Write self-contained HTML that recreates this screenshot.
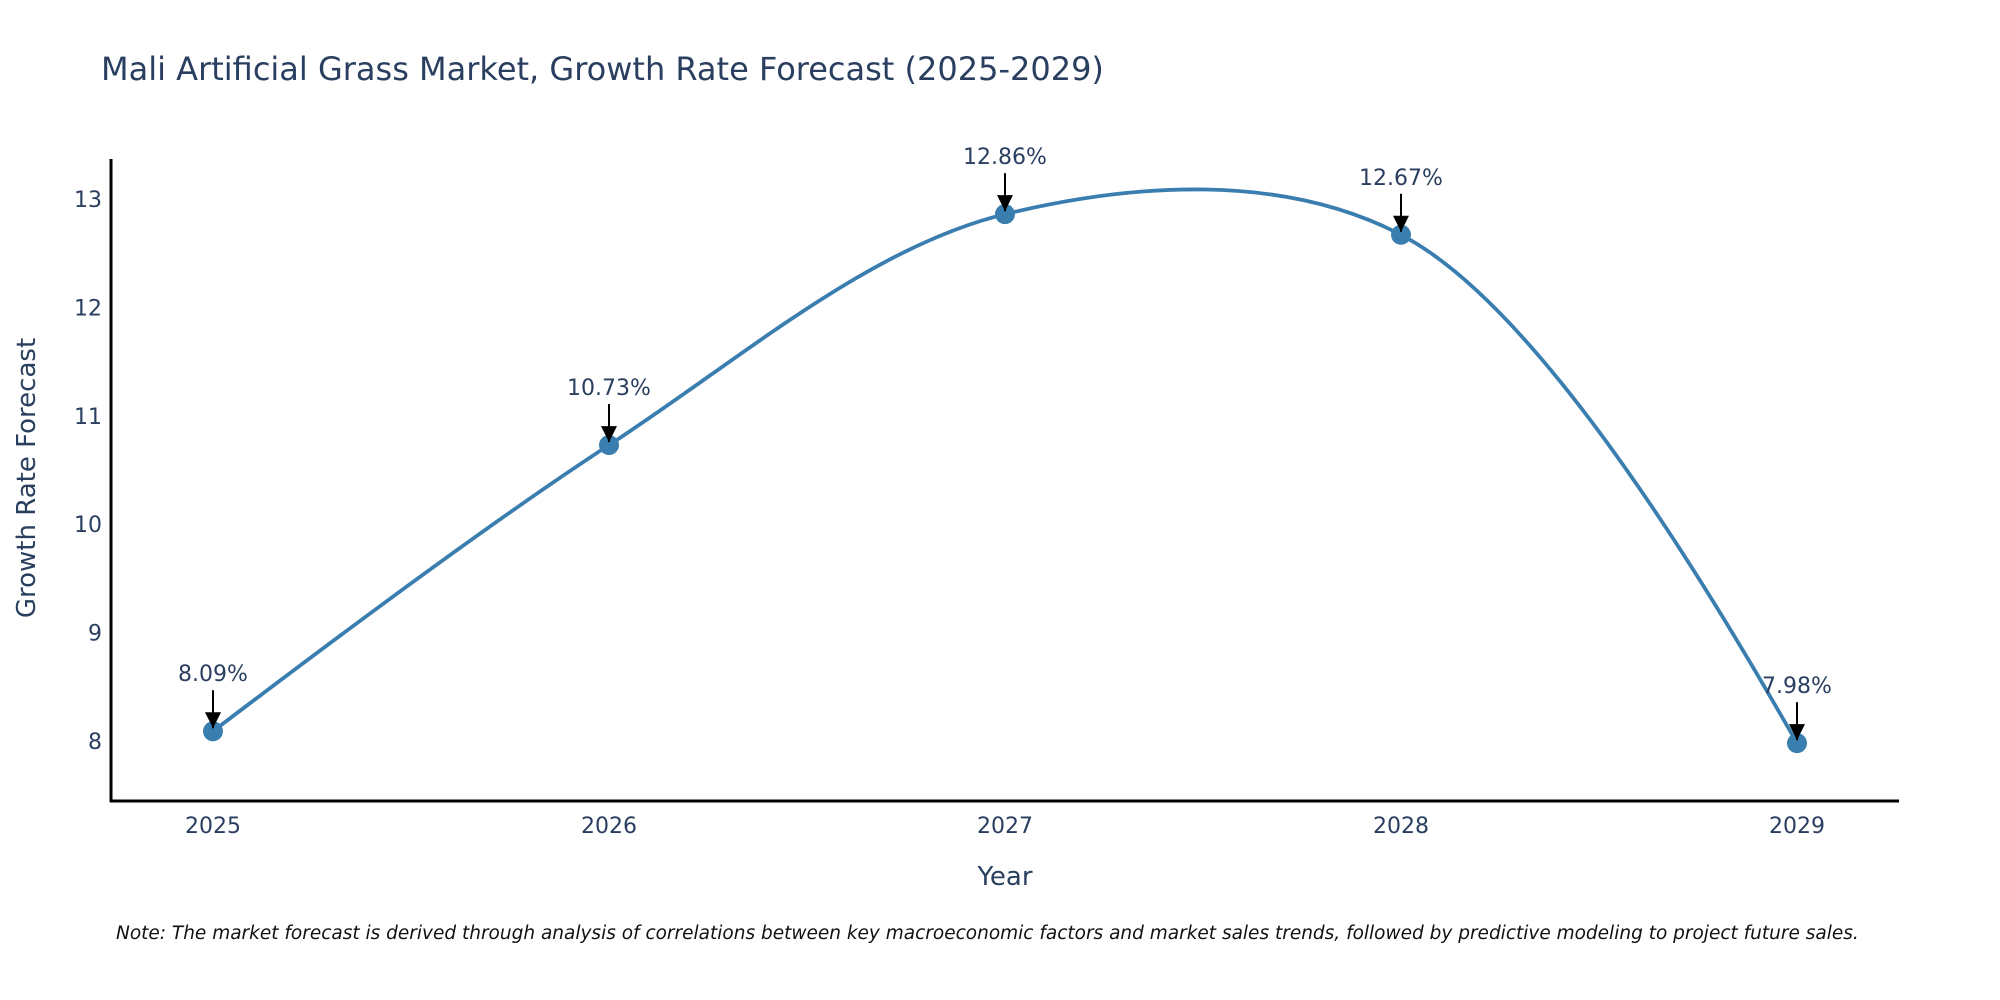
<!DOCTYPE html>
<html><head><meta charset="utf-8">
<style>
html,body{margin:0;padding:0;background:#fff;}
svg{display:block;font-family:"DejaVu Sans","Liberation Sans",sans-serif;}
</style></head>
<body>
<svg id="chart" width="2000" height="1000" viewBox="0 0 2000 1000">
  <rect width="2000" height="1000" fill="#fff"/>
  <text x="101" y="80" font-size="32" fill="#2a3f5f">Mali Artificial Grass Market, Growth Rate Forecast (2025-2029)</text>
  <g id="yticks"></g>
  <g id="xticks"></g>
  <line x1="111" y1="159" x2="111" y2="802" stroke="#000" stroke-width="3"/>
  <line x1="110" y1="801" x2="1899" y2="801" stroke="#000" stroke-width="3"/>
  <path id="series-line" fill="none" stroke="#3a7eb0" stroke-width="3.8"/>
  <g id="markers"></g>
  <g id="annotations"></g>
  <text x="1005" y="885" font-size="26" fill="#2a3f5f" text-anchor="middle">Year</text>
  <text transform="translate(35,478) rotate(-90)" font-size="26" fill="#2a3f5f" text-anchor="middle">Growth Rate Forecast</text>
  <text x="116" y="939" font-size="18.5" font-style="italic" fill="#111">Note: The market forecast is derived through analysis of correlations between key macroeconomic factors and market sales trends, followed by predictive modeling to project future sales.</text>
  <defs>
    <marker id="arrow" viewBox="0 0 10 10" refX="10" refY="5" markerWidth="7" markerHeight="7" markerUnits="userSpaceOnUse" orient="auto">
      <path d="M0,0 L10,5 L0,10 z" fill="#000"/>
    </marker>
  </defs>
</svg>
<script>
const years = [2025, 2026, 2027, 2028, 2029];
const growthValues = [8.09, 10.73, 12.86, 12.67, 7.98];
const valueLabels = ["8.09%", "10.73%", "12.86%", "12.67%", "7.98%"];
const yTickValues = [8, 9, 10, 11, 12, 13];

const NS = "http://www.w3.org/2000/svg";
function xScale(yr){ return 213 + (yr - 2025) * (1797 - 213) / 4; }
function yScale(v){ return 741 - (v - 8) * (741 - 199) / 5; }
function mk(tag, attrs, parent){
  const e = document.createElementNS(NS, tag);
  for (const k in attrs) e.setAttribute(k, attrs[k]);
  parent.appendChild(e);
  return e;
}

const yt = document.getElementById('yticks');
yTickValues.forEach(v => {
  const t = mk('text', {x: 102, y: yScale(v) + 8, 'font-size': 22, fill: '#2a3f5f', 'text-anchor': 'end'}, yt);
  
  
  t.textContent = v;
});
const xt = document.getElementById('xticks');
years.forEach(yr => {
  const t = mk('text', {x: xScale(yr), y: 833, 'font-size': 22, fill: '#2a3f5f', 'text-anchor': 'middle'}, xt);
  
  
  t.textContent = yr;
});

const pts = years.map((yr, i) => [xScale(yr), yScale(growthValues[i])]);
function tangent(p0, p1, p2, s){
  const d1x = p0[0]-p1[0], d1y = p0[1]-p1[1], d2x = p2[0]-p1[0], d2y = p2[1]-p1[1];
  const d1a = Math.pow(d1x*d1x + d1y*d1y, 0.25), d2a = Math.pow(d2x*d2x + d2y*d2y, 0.25);
  const numx = (d2a*d2a*d1x - d1a*d1a*d2x) * s, numy = (d2a*d2a*d1y - d1a*d1a*d2y) * s;
  const den1 = 3*d2a*(d1a+d2a), den2 = 3*d1a*(d1a+d2a);
  return [[p1[0] + numx/den1, p1[1] + numy/den1], [p1[0] - numx/den2, p1[1] - numy/den2]];
}
const tg = [];
for (let i = 1; i < pts.length - 1; i++) tg.push(tangent(pts[i-1], pts[i], pts[i+1], 1));
let d = 'M' + pts[0] + 'Q' + tg[0][0] + ' ' + pts[1];
for (let i = 2; i < pts.length - 1; i++) d += 'C' + tg[i-2][1] + ' ' + tg[i-1][0] + ' ' + pts[i];
d += 'Q' + tg[pts.length-3][1] + ' ' + pts[pts.length-1];
document.getElementById('series-line').setAttribute('d', d);

const mg = document.getElementById('markers');
const ag = document.getElementById('annotations');
years.forEach((yr, i) => {
  const cx = xScale(yr), cy = yScale(growthValues[i]);
  const c = mk('circle', {cx: cx, cy: cy, r: 10, fill: '#3a7eb0'}, mg);
  
  
  const l = mk('line', {x1: cx, y1: cy - 41, x2: cx, y2: cy - 3, stroke: '#000', 'stroke-width': 2}, ag);
  
  
  const h = mk('path', {d: 'M' + (cx - 8) + ',' + (cy - 19) + ' L' + (cx + 8) + ',' + (cy - 19) + ' L' + cx + ',' + (cy - 3) + ' z', fill: '#000'}, ag);
  
  
  const t = mk('text', {x: cx, y: cy - 50, 'font-size': 22, fill: '#2a3f5f', 'text-anchor': 'middle'}, ag);
  
  
  t.textContent = valueLabels[i];
});
</script>
</body></html>
